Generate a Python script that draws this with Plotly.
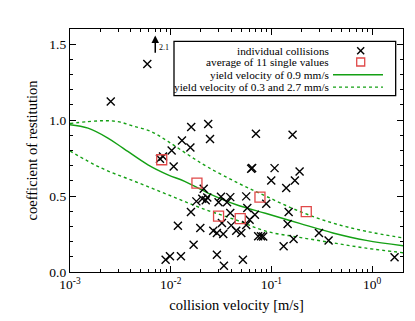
import numpy as np
import plotly.graph_objects as go

# ---- data ----
coll_v = [0.00586, 0.00254, 0.0160, 0.0236, 0.01295, 0.0246, 0.0157, 0.01023, 0.0703, 0.1626,
          0.00783, 0.00839, 0.01071, 0.0213, 0.0180, 0.0206, 0.0231, 0.0223, 0.0316, 0.0391,
          0.0299, 0.0363, 0.0159, 0.0391, 0.0323, 0.0118, 0.0197, 0.0265, 0.0288, 0.0333,
          0.0400, 0.0448, 0.0169, 0.0288, 0.0338, 0.00891, 0.00984, 0.01265, 0.0631, 0.0645,
          0.1077, 0.0998, 0.1909, 0.1714, 0.1406, 0.0563, 0.0890, 0.0577, 0.0687, 0.0608,
          0.0563, 0.0503, 0.1486, 0.1452, 0.074, 0.079, 0.083, 0.1325, 0.1663, 0.2972,
          0.3707, 1.675, 0.0522]
coll_e = [1.37, 1.123, 0.954, 0.974, 0.866, 0.875, 0.82, 0.80, 0.91, 0.903,
          0.745, 0.761, 0.695, 0.548, 0.465, 0.482, 0.491, 0.472, 0.495, 0.493,
          0.46, 0.46, 0.395, 0.388, 0.322, 0.305, 0.289, 0.272, 0.257, 0.25,
          0.307, 0.272, 0.18, 0.114, 0.041, 0.081, 0.103, 0.103, 0.68, 0.685,
          0.684, 0.603, 0.662, 0.603, 0.553, 0.498, 0.449, 0.421, 0.377, 0.344,
          0.309, 0.257, 0.395, 0.316, 0.235, 0.235, 0.233, 0.169, 0.217, 0.257,
          0.208, 0.097, 0.081]

avg_v = [0.00815, 0.01824, 0.0299, 0.0491, 0.0771, 0.2224]
avg_e = [0.739, 0.585, 0.368, 0.351, 0.493, 0.397]

yield09_v = [0.001, 0.00151, 0.00238, 0.00336, 0.00595, 0.0094, 0.01377, 0.02347, 0.045, 0.089, 0.191, 0.409, 0.875, 2.04]
yield09_e = [0.970, 0.947, 0.882, 0.816, 0.706, 0.640, 0.597, 0.520, 0.443, 0.385, 0.320, 0.257, 0.208, 0.173]

yield27_v = [0.001, 0.0015, 0.0022, 0.003, 0.0042, 0.0064, 0.0094, 0.0149, 0.0235, 0.0466, 0.089, 0.191, 0.409, 0.875, 2.04]
yield27_e = [0.978, 0.990, 0.996, 0.990, 0.962, 0.925, 0.860, 0.772, 0.690, 0.586, 0.498, 0.399, 0.322, 0.268, 0.224]

yield03_v = [0.001, 0.00205, 0.00439, 0.0094, 0.0201, 0.0466, 0.089, 0.191, 0.409, 0.875, 2.04]
yield03_e = [0.797, 0.684, 0.597, 0.509, 0.421, 0.338, 0.268, 0.228, 0.192, 0.157, 0.127]

outlier_v = 0.00703
outlier_label = "2.1"

x_tickvals = [0.001, 0.01, 0.1, 1]
x_ticktext = ["10<sup>-3</sup>", "10<sup>-2</sup>", "10<sup>-1</sup>", "10<sup>0</sup>"]

GREEN = "#14a014"
RED = "#e04848"
FONT = "Liberation Serif"

fig = go.Figure()
fig.add_trace(go.Scatter(x=yield27_v, y=yield27_e, mode="lines", line_shape="spline",
                         line=dict(color=GREEN, width=1.4, dash="3px,3px"), showlegend=False))
fig.add_trace(go.Scatter(x=yield03_v, y=yield03_e, mode="lines", line_shape="spline",
                         line=dict(color=GREEN, width=1.4, dash="3px,3px"), showlegend=False))
fig.add_trace(go.Scatter(x=yield09_v, y=yield09_e, mode="lines", line_shape="spline",
                         line=dict(color=GREEN, width=1.4), showlegend=False))
fig.add_trace(go.Scatter(x=coll_v, y=coll_e, mode="markers",
                         marker=dict(symbol="x-thin-open", size=8, color="black",
                                     line=dict(color="black", width=1.4)),
                         showlegend=False))
fig.add_trace(go.Scatter(x=avg_v, y=avg_e, mode="markers",
                         marker=dict(symbol="square-open", size=10, color=RED, line=dict(color=RED, width=1.3)),
                         showlegend=False))

minor_x = [m * 10.0 ** d for d in (-3, -2, -1, 0) for m in range(2, 10) if m * 10.0 ** d <= 2.05]

fig.update_xaxes(type="log", range=[-3, 0.308], tickvals=x_tickvals, ticktext=x_ticktext,
                 ticks="inside", ticklen=6, tickwidth=1, tickcolor="black",
                 minor=dict(tickvals=minor_x, ticks="inside", ticklen=3, tickcolor="black"),
                 showline=True, linecolor="black", linewidth=1.3, mirror="ticks",
                 showgrid=False, zeroline=False, automargin=False,
                 tickfont=dict(family=FONT, size=13.5, color="black"),
                 title=dict(text="collision velocity [m/s]", font=dict(family=FONT, size=14.5, color="black"), standoff=8))
fig.update_yaxes(range=[0, 1.6], dtick=0.5, tick0=0, tickformat=".1f",
                 ticks="inside", ticklen=6, tickwidth=1, tickcolor="black",
                 minor=dict(dtick=0.1, ticks="inside", ticklen=3, tickcolor="black"),
                 showline=True, linecolor="black", linewidth=1.3, mirror="ticks",
                 showgrid=False, zeroline=False, automargin=False,
                 tickfont=dict(family=FONT, size=13.5, color="black"),
                 title=dict(text="coefficient of restitution", font=dict(family=FONT, size=14.5, color="black"), standoff=8))

# outlier arrow
fig.add_annotation(x=np.log10(outlier_v), y=1.557, ax=np.log10(outlier_v), ay=1.434,
                   xref="x", yref="y", axref="x", ayref="y", text="", showarrow=True,
                   arrowhead=2, arrowsize=1, arrowwidth=1.5, arrowcolor="black")
fig.add_annotation(x=np.log10(0.00857), y=1.48, xref="x", yref="y", text=outlier_label,
                   showarrow=False, font=dict(family=FONT, size=8, color="black"))

# custom legend (text left, symbol right)
fig.add_shape(type="rect", xref="paper", yref="paper", x0=0.3123, x1=0.978, y0=0.7255, y1=0.949,
              line=dict(color="black", width=1.3), fillcolor="white", layer="above")
rows = [0.9107, 0.8642, 0.812, 0.761]
labels = ["individual collisions", "average of 11 single values",
          "yield velocity of 0.9 mm/s", "yield velocity of 0.3 and 2.7 mm/s"]
for yy, lab in zip(rows, labels):
    fig.add_annotation(x=0.783, y=yy, xref="paper", yref="paper", text=lab, showarrow=False,
                       xanchor="right", yanchor="middle", font=dict(family=FONT, size=11.3, color="black"))
cx = 0.873
dx, dy = 3.5 / 333, 3.5 / 243
fig.add_shape(type="line", xref="paper", yref="paper", x0=cx - dx, x1=cx + dx, y0=rows[0] - dy, y1=rows[0] + dy,
              line=dict(color="black", width=1.4), layer="above")
fig.add_shape(type="line", xref="paper", yref="paper", x0=cx - dx, x1=cx + dx, y0=rows[0] + dy, y1=rows[0] - dy,
              line=dict(color="black", width=1.4), layer="above")
sx, sy = 4 / 333, 4 / 243
fig.add_shape(type="rect", xref="paper", yref="paper", x0=cx - sx, x1=cx + sx, y0=rows[1] - sy, y1=rows[1] + sy,
              line=dict(color=RED, width=1.3), layer="above")
fig.add_shape(type="line", xref="paper", yref="paper", x0=0.7898, x1=0.9399, y0=rows[2], y1=rows[2],
              line=dict(color=GREEN, width=1.4), layer="above")
fig.add_shape(type="line", xref="paper", yref="paper", x0=0.7898, x1=0.9399, y0=rows[3], y1=rows[3],
              line=dict(color=GREEN, width=1.4, dash="3px,3px"), layer="above")

fig.update_layout(width=415, height=321, margin=dict(l=62, r=20, t=21, b=57),
                  plot_bgcolor="white", paper_bgcolor="white", showlegend=False,
                  font=dict(family=FONT, color="black"))
fig.write_html("out.html")
